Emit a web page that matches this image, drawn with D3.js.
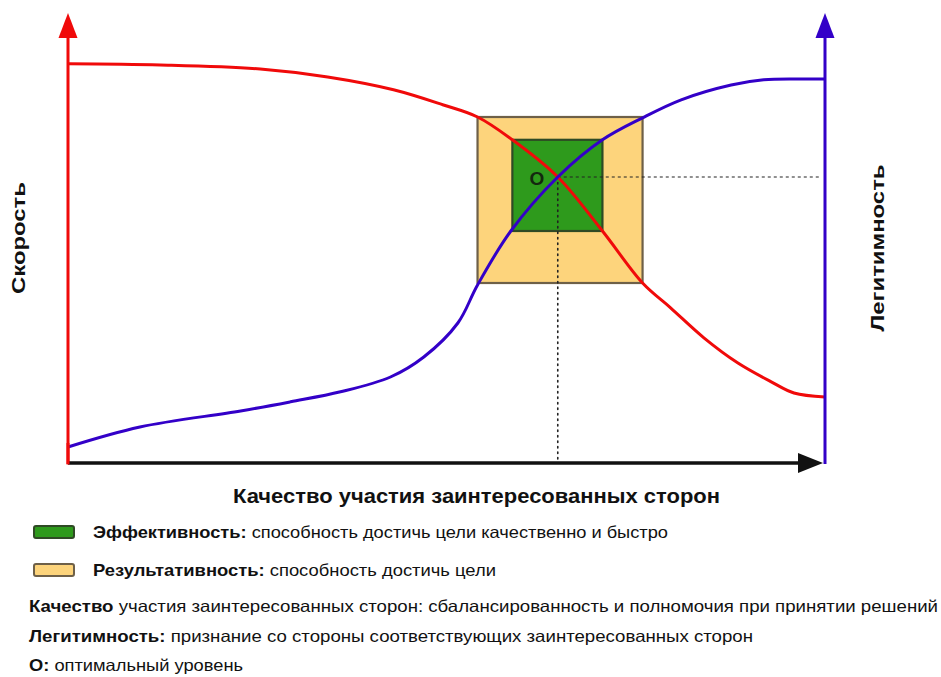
<!DOCTYPE html>
<html><head><meta charset="utf-8">
<script src="https://cdn.jsdelivr.net/npm/d3@7"></script>
<style>
html,body{margin:0;padding:0;background:#fff;}
svg{display:block;font-family:Arial,"Liberation Sans",sans-serif;}
</style></head>
<body>
<svg id="chart" width="941" height="677"></svg>
<script>
// ---- data (abstract 0..100 units) ----
const speedX = [0, 12.2, 25.4, 34.3, 43, 49.6, 54.1, 58.7, 64.7, 70.6, 75.9, 79.6, 84, 88.5, 92.9, 95.9, 100];
const speedY = [99.8, 99.5, 98.5, 96.5, 93.3, 89.5, 86.5, 80.8, 71.5, 58, 45, 38.8, 31.3, 25, 20.3, 17.5, 16.5];
const legitX = [0, 9.5, 22.8, 29.4, 36, 42.6, 47, 51.5, 54.1, 58.5, 64.7, 70.6, 75.9, 81, 87.6, 91.9, 96.4, 100];
const legitY = [4, 9, 13, 15.3, 17.8, 21.5, 26.5, 35, 44.5, 58, 71.5, 80.8, 86.3, 90.8, 94.5, 95.8, 96, 96];
const resultBox = [54.1, 75.9, 45, 86.5];      // x0, x1, y0, y1
const effectBox = [58.7, 70.6, 58, 80.8];
const optimum = [64.7, 71.5];
const optimumLabel = "O";
const leftTitle = "Скорость";
const rightTitle = "Легитимность";
const xTitle = "Качество участия заинтересованных сторон";
const legendItems = [
  {bold: "Эффективность:", text: " способность достичь цели качественно и быстро", fill: "#2e9a1c", stroke: "#2f4a25"},
  {bold: "Результативность:", text: " способность достичь цели", fill: "#fdd47c", stroke: "#6e6048"}
];
const notes = [
  {bold: "Качество", text: " участия заинтересованных сторон: сбалансированность и полномочия при принятии решений"},
  {bold: "Легитимность:", text: " признание со стороны соответствующих заинтересованных сторон"},
  {bold: "О:", text: " оптимальный уровень"}
];

// ---- drawing ----
const svg = d3.select("#chart");
const x = d3.scaleLinear().domain([0, 100]).range([68, 825]);
const y = d3.scaleLinear().domain([0, 100]).range([463, 63]);
const RED = "#f00a0a", BLUE = "#3300c8";

// boxes
function box(b, fill, stroke) {
  svg.append("rect")
    .attr("x", x(b[0])).attr("y", y(b[3]))
    .attr("width", x(b[1]) - x(b[0])).attr("height", y(b[2]) - y(b[3]))
    .attr("fill", fill).attr("stroke", stroke).attr("stroke-width", 2.2);
}
box(resultBox, "#fdd47c", "#6e6048");
box(effectBox, "#2e9a1c", "#2f4a25");

// dotted guides
svg.append("line")
  .attr("x1", x(optimum[0])).attr("x2", x(100) - 4)
  .attr("y1", y(optimum[1])).attr("y2", y(optimum[1]))
  .attr("stroke", "#222").attr("stroke-width", 1.2).attr("stroke-dasharray", "3,3");
svg.append("line")
  .attr("x1", x(optimum[0])).attr("x2", x(optimum[0]))
  .attr("y1", y(optimum[1])).attr("y2", y(0))
  .attr("stroke", "#222").attr("stroke-width", 1.6).attr("stroke-dasharray", "1.5,4")
  .attr("stroke-linecap", "round");

// curves
const line = d3.line().x(d => x(d[0])).y(d => y(d[1])).curve(d3.curveCatmullRom.alpha(0.5));
svg.append("path").datum(speedX.map((v, i) => [v, speedY[i]]))
  .attr("d", line).attr("fill", "none").attr("stroke", RED).attr("stroke-width", 3);
svg.append("path").datum(legitX.map((v, i) => [v, legitY[i]]))
  .attr("d", line).attr("fill", "none").attr("stroke", BLUE).attr("stroke-width", 3);

// axes
const yTipPx = 13, arrowLen = 25, arrowHalf = 9.5;
function vAxis(xv, color) {
  const px = x(xv);
  svg.append("line").attr("x1", px).attr("x2", px)
    .attr("y1", y(0) + 1).attr("y2", yTipPx + arrowLen - 2)
    .attr("stroke", color).attr("stroke-width", 3);
  svg.append("path")
    .attr("d", `M${px},${yTipPx} L${px + arrowHalf},${yTipPx + arrowLen} L${px - arrowHalf},${yTipPx + arrowLen} Z`)
    .attr("fill", color);
}
vAxis(0, RED);
vAxis(100, BLUE);
// x axis
const xTipPx = x(100) - 2;
svg.append("line").attr("x1", x(0)).attr("x2", xTipPx - arrowLen + 2)
  .attr("y1", y(0)).attr("y2", y(0)).attr("stroke", "#111").attr("stroke-width", 3.5);
svg.append("path")
  .attr("d", `M${xTipPx},${y(0)} L${xTipPx - arrowLen},${y(0) - 10} L${xTipPx - arrowLen},${y(0) + 10} Z`)
  .attr("fill", "#111");
svg.append("line").attr("x1", x(0)).attr("x2", x(0)).attr("y1", y(0) - 20).attr("y2", y(0) + 1.5)
  .attr("stroke", RED).attr("stroke-width", 3);

// O label
svg.append("text").attr("x", x(optimum[0]) - 21).attr("y", y(optimum[1]) + 7.5)
  .attr("text-anchor", "middle").attr("font-size", 19).attr("font-weight", "bold")
  .attr("fill", "#14280f").text(optimumLabel);

// axis titles
svg.append("text").attr("transform", "translate(25,238) rotate(-90)")
  .attr("text-anchor", "middle").attr("font-size", 18).attr("font-weight", "bold")
  .attr("textLength", 112).attr("lengthAdjust", "spacingAndGlyphs")
  .attr("fill", "#111").text(leftTitle);
svg.append("text").attr("transform", "translate(884,248) rotate(-90)")
  .attr("text-anchor", "middle").attr("font-size", 18).attr("font-weight", "bold")
  .attr("textLength", 167).attr("lengthAdjust", "spacingAndGlyphs")
  .attr("fill", "#111").text(rightTitle);
svg.append("text").attr("x", 233).attr("y", 503)
  .attr("font-size", 20).attr("font-weight", "bold")
  .attr("textLength", 487).attr("lengthAdjust", "spacingAndGlyphs")
  .attr("fill", "#111").text(xTitle);

// legend
const legY = [538, 576];
const legW = [575, 403];
const noteW = [909, 724, 214];
function richText(xp, yp, d, w) {
  const t = svg.append("text").attr("x", xp).attr("y", yp).attr("font-size", 16.5).attr("fill", "#111")
    .attr("textLength", w).attr("lengthAdjust", "spacingAndGlyphs");
  t.append("tspan").attr("font-weight", "bold").text(d.bold);
  t.append("tspan").text(d.text);
}
legendItems.forEach((d, i) => {
  svg.append("rect").attr("x", 34).attr("y", legY[i] - 12).attr("width", 40).attr("height", 12)
    .attr("rx", 2).attr("fill", d.fill).attr("stroke", d.stroke).attr("stroke-width", 2);
  richText(93, legY[i], d, legW[i]);
});
const noteY = [612, 642, 671];
notes.forEach((d, i) => richText(29, noteY[i], d, noteW[i]));
</script>
</body></html>
